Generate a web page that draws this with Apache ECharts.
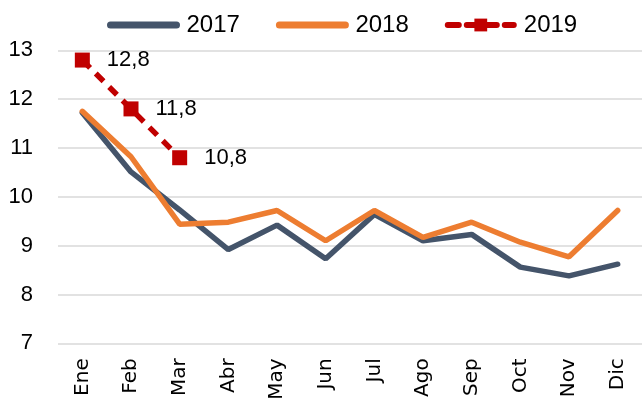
<!DOCTYPE html>
<html>
<head>
<meta charset="utf-8">
<script src="https://cdn.jsdelivr.net/npm/echarts@6/dist/echarts.min.js"></script>
<style>
  html, body { margin: 0; padding: 0; background: #fff; }
  #grafico { width: 642px; height: 409px; }
</style>
</head>
<body>
<div id="grafico"></div>
<script>
const meses = ['Ene', 'Feb', 'Mar', 'Abr', 'May', 'Jun', 'Jul', 'Ago', 'Sep', 'Oct', 'Nov', 'Dic'];
const datos2017 = [11.72, 10.51, 9.73, 8.92, 9.42, 8.73, 9.64, 9.1, 9.23, 8.56, 8.38, 8.62];
const datos2018 = [11.75, 10.82, 9.44, 9.48, 9.72, 9.1, 9.72, 9.17, 9.48, 9.07, 8.77, 9.72];
const datos2019 = [12.8, 11.8, 10.8];
const ticksY = [7, 8, 9, 10, 11, 12, 13];

window.onload = () => {
    const el = document.getElementById('grafico');
    const chart = echarts.init(el);
    const fuente = 'Liberation Sans';
    const option = {
        animation: false,
        legend: {
            top: 8,
            left: 102,
            itemWidth: 66,
            itemHeight: 16,
            itemGap: 36,
            textStyle: { fontFamily: fuente, fontSize: 24, color: '#000', padding: [0, 0, 0, 5] },
            data: [
                { name: '2017', itemStyle: { opacity: 0 }, lineStyle: { width: 7, cap: 'round' } },
                { name: '2018', itemStyle: { opacity: 0 }, lineStyle: { width: 7, cap: 'round' } },
                { name: '2019', lineStyle: { width: 6, cap: 'round' } }
            ]
        },
        grid: { left: 58, top: 50.3, width: 592, bottom: 65.7, containLabel: false },
        xAxis: {
            type: 'category',
            data: meses,
            boundaryGap: true,
            axisLine: { show: false },
            axisTick: { show: false },
            axisLabel: {
                rotate: 90,
                margin: 15,
                fontFamily: 'DejaVu Sans',
                fontSize: 20,
                color: '#000'
            }
        },
        yAxis: {
            type: 'value',
            min: ticksY[0],
            max: ticksY[ticksY.length - 1],
            interval: 1,
            axisLine: { show: false },
            axisTick: { show: false },
            splitLine: { lineStyle: { color: '#D9D9D9', width: 1.5 } },
            axisLabel: { margin: 25, fontFamily: fuente, fontSize: 22, color: '#000' }
        },
        series: [{
            name: '2017',
            type: 'line',
            data: datos2017,
            symbol: 'none',
            color: '#44546A',
            lineStyle: { width: 5.5, color: '#44546A', cap: 'round' }
        }, {
            name: '2018',
            type: 'line',
            data: datos2018,
            symbol: 'none',
            color: '#ED7D31',
            lineStyle: { width: 5.5, color: '#ED7D31', cap: 'round' }
        }, {
            name: '2019',
            type: 'line',
            data: datos2019,
            symbol: 'rect',
            symbolSize: 15,
            color: '#C00000',
            itemStyle: { color: '#C00000' },
            lineStyle: { width: 5.5, color: '#C00000', type: [11, 8] },
            label: {
                show: true,
                position: 'right',
                distance: 17,
                fontFamily: fuente,
                fontSize: 22,
                color: '#000',
                formatter: p => String(p.value).replace('.', ',')
            }
        }]
    };
    chart.setOption(option);
};
</script>
</body>
</html>
